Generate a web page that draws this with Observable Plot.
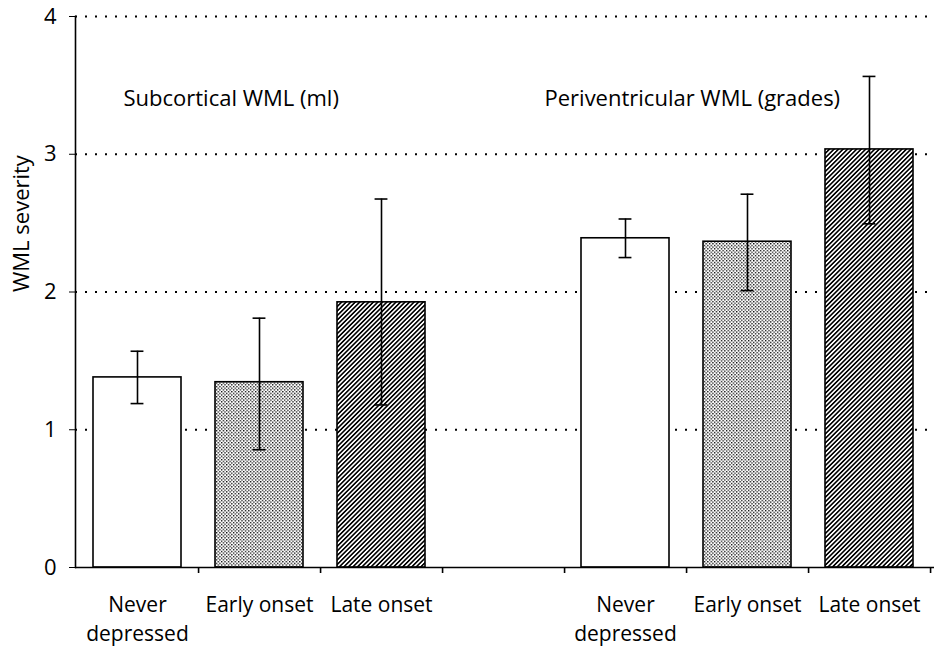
<!DOCTYPE html>
<html>
<head>
<meta charset="utf-8">
<script src="https://cdn.jsdelivr.net/npm/d3@7"></script>
<script src="https://cdn.jsdelivr.net/npm/@observablehq/plot@0.6"></script>
<style>
  html, body { margin: 0; padding: 0; background: white; }
  #chart svg { display: block; }
</style>
</head>
<body>
<div id="chart"></div>
<script>
// Lesion measures and depression-onset groups
const measures = ["Subcortical WML (ml)", "Periventricular WML (grades)"];
const onsetGroups = ["Never depressed", "Early onset", "Late onset"];
const onsetLabels = ["Never\ndepressed", "Early onset", "Late onset"];
const onsetFills = ["white", "url(#stipple)", "url(#hatch)"];

// Mean WML severity and error-bar limits per onset group
const subcorticalMean = [1.38, 1.345, 1.925];
const subcorticalLow  = [1.19, 0.855, 1.18];
const subcorticalHigh = [1.57, 1.81, 2.675];
const periventricularMean = [2.39, 2.365, 3.035];
const periventricularLow  = [2.25, 2.01, 2.495];
const periventricularHigh = [2.53, 2.71, 3.565];

const yTicks = [0, 1, 2, 3, 4];
const yLabel = "WML severity";

// One slot per bar, with an empty slot separating the two measures
const rows = [];
const slots = [];
[[subcorticalMean, subcorticalLow, subcorticalHigh],
 [periventricularMean, periventricularLow, periventricularHigh]].forEach(([mean, low, high], m) => {
  if (m > 0) slots.push("gap");
  onsetGroups.forEach((g, i) => {
    const key = `${m}-${i}`;
    slots.push(key);
    rows.push({key, m, measure: measures[m], onset: g, label: onsetLabels[i], fill: onsetFills[i],
               mean: mean[i], low: low[i], high: high[i], first: i === 0});
  });
});
const labelOf = new Map(rows.map(r => [r.key, r.label]));
const captionRows = rows.filter(r => r.first);

const left = 75, right = 930;
const step = (right - left) / slots.length;
const barInset = 17;
const capInset = (step - 13) / 2;
const font = 22;

const plot = Plot.plot({
  width: 934,
  height: 648,
  marginTop: 16,
  marginBottom: 81,
  marginLeft: left,
  marginRight: 0,
  style: {fontFamily: "'Open Sans', sans-serif", fontSize: `${font}px`, background: "white", color: "black"},
  x: {type: "band", domain: slots, range: [left, right], padding: 0},
  y: {domain: [0, 4]},
  marks: [
    // dotted horizontal grid
    Plot.ruleY(yTicks.slice(1), {stroke: "black", strokeWidth: 2, strokeDasharray: "2,8"}),
    Plot.axisY({ticks: yTicks, tickSize: 6, tickPadding: 13, label: null, tickFormat: d => d}),
    Plot.text([yLabel], {frameAnchor: "left", rotate: -90, dx: -54, fontSize: font}),
    Plot.axisX({tickSize: 0, tickPadding: 24, label: null, tickFormat: k => labelOf.get(k) ?? "", lineHeight: 1.37, fontSize: 21}),
    // bars
    Plot.barY(rows, {x: "key", y: "mean", fill: "fill", stroke: "black", strokeWidth: 1.6, insetLeft: barInset, insetRight: barInset}),
    // error bars
    Plot.ruleX(rows, {x: "key", y1: "low", y2: "high", stroke: "black", strokeWidth: 1.6}),
    Plot.tickY(rows, {x: "key", y: "high", stroke: "black", strokeWidth: 1.6, insetLeft: capInset, insetRight: capInset}),
    Plot.tickY(rows, {x: "key", y: "low", stroke: "black", strokeWidth: 1.6, insetLeft: capInset, insetRight: capInset}),
    // axes lines and category separators
    Plot.frame({anchor: "left", stroke: "black", strokeWidth: 1.6}),
    Plot.ruleY([0], {stroke: "black", strokeWidth: 1.6}),
    Plot.ruleX(slots, {x: d => d, y1: 0, y2: 0, dx: step / 2, insetBottom: -6, stroke: "black", strokeWidth: 1.6}),
    // measure captions
    Plot.text(captionRows.filter(r => r.m === 0), {x: "key", y: 3.4, text: "measure", textAnchor: "start", dx: -14, fontSize: font}),
    Plot.text(captionRows.filter(r => r.m === 1), {x: "key", y: 3.4, text: "measure", textAnchor: "start", dx: -81, fontSize: font})
  ]
});

// fill patterns for the onset groups
const defs = d3.select(plot).insert("defs", ":first-child");
const stipple = defs.append("pattern").attr("id", "stipple").attr("patternUnits", "userSpaceOnUse")
  .attr("width", 3.4).attr("height", 3.4);
stipple.append("rect").attr("width", 3.4).attr("height", 3.4).attr("fill", "white");
stipple.append("rect").attr("x", 0).attr("y", 0).attr("width", 1.3).attr("height", 1.3).attr("fill", "black");
stipple.append("rect").attr("x", 1.7).attr("y", 1.7).attr("width", 1.3).attr("height", 1.3).attr("fill", "black");
const hatch = defs.append("pattern").attr("id", "hatch").attr("patternUnits", "userSpaceOnUse")
  .attr("width", 3.2).attr("height", 3.2).attr("patternTransform", "rotate(45)");
hatch.append("rect").attr("width", 3.2).attr("height", 3.2).attr("fill", "white");
hatch.append("rect").attr("x", 0).attr("y", 0).attr("width", 1.6).attr("height", 3.2).attr("fill", "black");

document.getElementById("chart").appendChild(plot);
</script>
</body>
</html>
